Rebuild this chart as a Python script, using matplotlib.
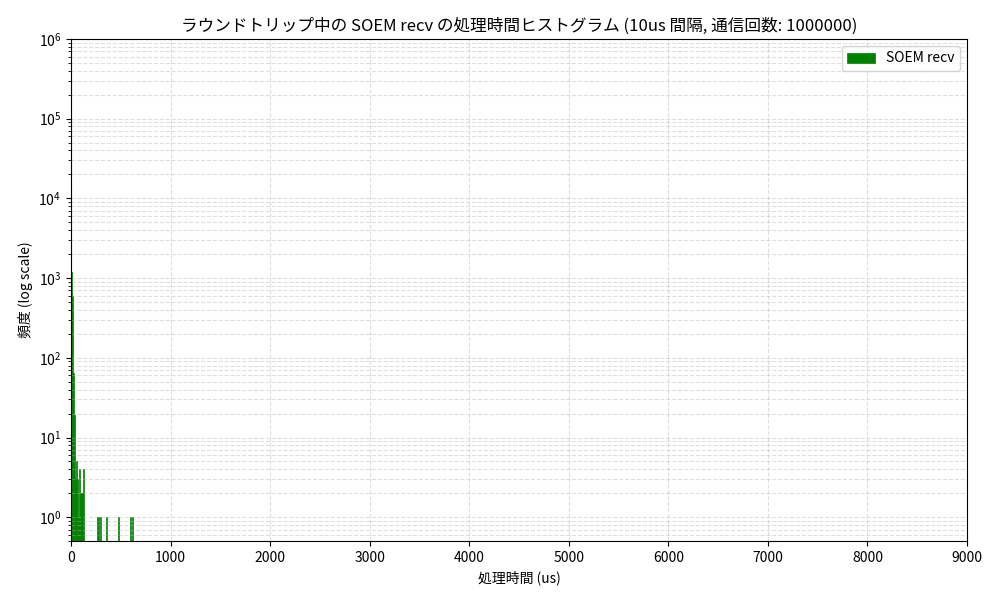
import numpy as np
import matplotlib.pyplot as plt

plt.rcParams['font.family'] = ['Noto Sans CJK JP', 'DejaVu Sans']

# ヒストグラムのビン (10us 間隔) とその度数
bin_left = [0, 10, 20, 30, 40, 50, 60, 70, 80, 90, 100, 110, 120,
            260, 270, 290, 350, 470, 590, 610]
counts = [1200, 600, 64, 19, 3, 5, 3, 1, 4, 2, 2, 2, 4,
          1, 1, 1, 1, 1, 1, 1]
bin_width = 10
total_count = 1000000

fig = plt.figure(figsize=(10, 6), dpi=100)
plt.bar(bin_left, counts, width=bin_width, align='edge', color='green',
        edgecolor='green', linewidth=0.5, label='SOEM recv', log=True)
plt.yscale('log')
plt.xlim(0, 9000)
plt.ylim(0.5, 1e6)
plt.title(f"ラウンドトリップ中の SOEM recv の処理時間ヒストグラム (10us 間隔, 通信回数: {total_count})")
plt.xlabel("処理時間 (us)")
plt.ylabel("頻度 (log scale)")
plt.grid(True, which='both', linestyle='--', alpha=0.4)
plt.legend(loc='upper right')
plt.subplots_adjust(left=0.071, right=0.967, top=0.935, bottom=0.098)
plt.savefig("out.png")
